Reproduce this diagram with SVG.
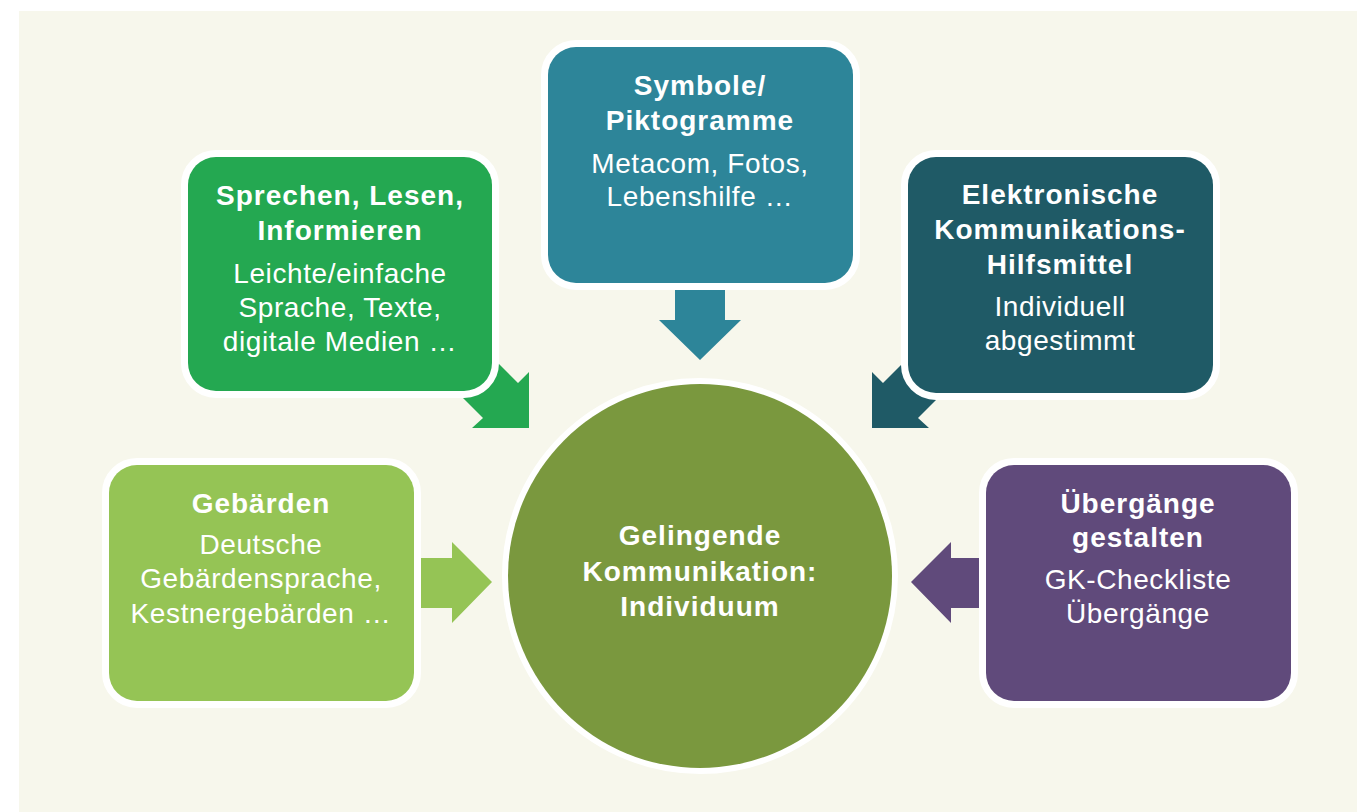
<svg xmlns="http://www.w3.org/2000/svg" width="1357" height="812" viewBox="0 0 1357 812">
<style>
.box{stroke:#ffffff;stroke-width:14;paint-order:stroke}
.t{font-family:"Liberation Sans",Arial,sans-serif;font-size:28px;fill:#ffffff;text-anchor:middle}
.b{font-weight:bold;letter-spacing:1px}
.r{letter-spacing:0.6px}
</style>
<rect x="0" y="0" width="1357" height="812" fill="#ffffff"/>
<rect x="19" y="11" width="1338" height="801" fill="#f7f7ec"/>
<g id="connectors">
<polygon fill="#24a851" points="529,428 529,372 518,383 455,320 420,355 483,418 472,428"/>
<polygon fill="#2d8599" points="675,280 725,280 725,320 741,320 700,360 659,320 675,320"/>
<polygon fill="#1f5a66" points="872,428 872,372 883,383 946,320 981,355 918,418 929,428"/>
<polygon fill="#95c455" points="410,558 452,558 452,542 492,582 452,623 452,608 410,608"/>
<polygon fill="#604a7b" points="995,558 951,558 951,542 911,582 951,623 951,608 995,608"/>
</g>
<g id="node-sprechen">
<rect class="box" x="188" y="157" width="304" height="234" rx="28" fill="#24a851"/>
<text class="t b" x="340" y="205">Sprechen, Lesen,</text>
<text class="t b" x="340" y="240">Informieren</text>
<text class="t r" x="340" y="283">Leichte/einfache</text>
<text class="t r" x="340" y="317">Sprache, Texte,</text>
<text class="t r" x="340" y="351">digitale Medien …</text>
</g>
<g id="node-symbole">
<rect class="box" x="548" y="47" width="305" height="236" rx="28" fill="#2d8599"/>
<text class="t b" x="700" y="95">Symbole/</text>
<text class="t b" x="700" y="130">Piktogramme</text>
<text class="t r" x="700" y="173">Metacom, Fotos,</text>
<text class="t r" x="700" y="206">Lebenshilfe …</text>
</g>
<g id="node-elektronisch">
<rect class="box" x="908" y="157" width="305" height="236" rx="28" fill="#1f5a66"/>
<text class="t b" x="1060" y="204">Elektronische</text>
<text class="t b" x="1060" y="239">Kommunikations-</text>
<text class="t b" x="1060" y="274">Hilfsmittel</text>
<text class="t r" x="1060" y="316">Individuell</text>
<text class="t r" x="1060" y="350">abgestimmt</text>
</g>
<g id="node-gebaerden">
<rect class="box" x="109" y="465" width="305" height="236" rx="28" fill="#95c455"/>
<text class="t b" x="261" y="513">Gebärden</text>
<text class="t r" x="261" y="554">Deutsche</text>
<text class="t r" x="261" y="588">Gebärdensprache,</text>
<text class="t r" x="261" y="623">Kestnergebärden …</text>
</g>
<g id="node-uebergaenge">
<rect class="box" x="986" y="465" width="305" height="236" rx="28" fill="#604a7b"/>
<text class="t b" x="1138" y="513">Übergänge</text>
<text class="t b" x="1138" y="547">gestalten</text>
<text class="t r" x="1138" y="589">GK-Checkliste</text>
<text class="t r" x="1138" y="623">Übergänge</text>
</g>
<g id="node-center">
<circle cx="700" cy="576" r="192" fill="#7a983e" stroke="#ffffff" stroke-width="12" paint-order="stroke"/>
<text class="t b" x="700" y="545">Gelingende</text>
<text class="t b" x="700" y="581">Kommunikation:</text>
<text class="t b" x="700" y="616">Individuum</text>
</g>
</svg>
